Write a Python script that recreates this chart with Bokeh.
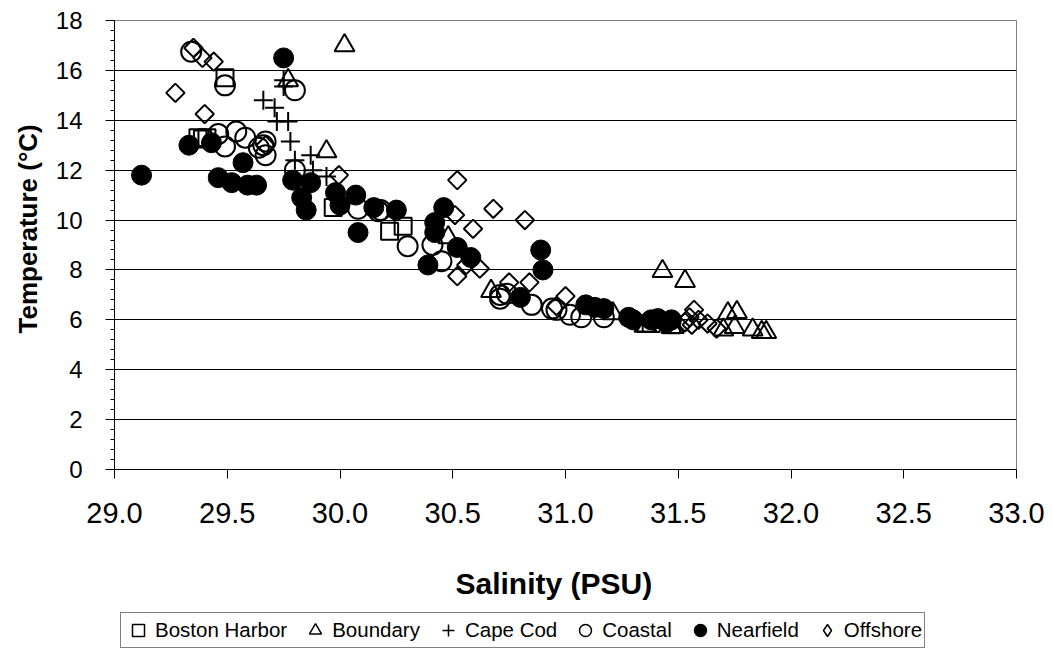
import math
from bokeh.plotting import figure
from bokeh.layouts import column
from bokeh.models import FixedTicker, Legend, LegendItem, Range1d, Title
from bokeh.embed import file_html
from bokeh.resources import INLINE

# ---- data ----
harbor_sal = [29.49, 29.37, 29.39, 29.41, 29.97, 30.22, 30.28, 31.47, 31.38]
harbor_temp = [15.7, 13.3, 13.25, 13.3, 10.5, 9.55, 9.75, 5.8, 5.85]

boundary_sal = [30.02, 29.77, 29.94, 30.48, 30.67, 31.43, 31.53, 31.21, 31.35, 31.36,
                31.47, 31.48, 31.72, 31.76, 31.70, 31.75, 31.83, 31.87, 31.89]
boundary_temp = [17.0, 15.6, 12.75, 9.3, 7.15, 7.95, 7.55, 6.25, 5.75, 5.75,
                 5.7, 5.7, 6.25, 6.3, 5.6, 5.7, 5.6, 5.5, 5.5]

capecod_sal = [29.75, 29.75, 29.66, 29.71, 29.72, 29.77, 29.78, 29.80, 29.87, 29.88, 29.94]
capecod_temp = [15.6, 15.35, 14.8, 14.5, 13.95, 13.95, 13.15, 12.4, 12.6, 12.0, 11.75]

coastal_sal = [29.34, 29.49, 29.80, 29.46, 29.49, 29.54, 29.58, 29.64, 29.66, 29.67,
               29.67, 29.80, 30.08, 30.17, 30.30, 30.41, 30.45, 30.71, 30.74, 30.71,
               30.85, 30.94, 30.96, 31.02, 31.07, 31.17, 30.18]
coastal_temp = [16.75, 15.4, 15.2, 13.45, 12.95, 13.55, 13.3, 12.9, 13.0, 13.15,
                12.6, 12.0, 10.45, 10.35, 8.95, 9.0, 8.35, 7.0, 7.05, 6.85,
                6.6, 6.45, 6.4, 6.2, 6.1, 6.1, 10.4]

nearfield_sal = [29.12, 29.33, 29.43, 29.57, 29.46, 29.52, 29.59, 29.63, 29.75, 29.79,
                 29.87, 29.83, 29.85, 29.98, 30.00, 30.07, 30.08, 30.15, 30.25, 30.46,
                 30.42, 30.42, 30.39, 30.52, 30.58, 30.89, 30.90, 30.80, 31.09, 31.13,
                 31.17, 31.28, 31.38, 31.41, 31.47, 31.30, 31.45]
nearfield_temp = [11.8, 13.0, 13.1, 12.3, 11.7, 11.5, 11.4, 11.4, 16.5, 11.6,
                  11.5, 10.9, 10.4, 11.1, 10.6, 11.0, 9.5, 10.5, 10.4, 10.5,
                  9.9, 9.5, 8.2, 8.9, 8.5, 8.8, 8.0, 6.9, 6.6, 6.5,
                  6.45, 6.1, 6.0, 6.05, 6.0, 6.0, 5.9]

offshore_sal = [29.35, 29.39, 29.44, 29.27, 29.40, 29.67, 29.995, 30.52, 30.51, 30.68,
                30.82, 30.59, 30.52, 30.62, 30.56, 30.75, 30.84, 31.00, 30.96, 31.57,
                31.55, 31.59, 31.56, 31.63, 31.67, 31.53]
offshore_temp = [16.9, 16.5, 16.35, 15.1, 14.25, 13.0, 11.8, 11.6, 10.2, 10.45,
                 10.0, 9.65, 7.75, 8.05, 8.2, 7.5, 7.5, 6.95, 6.55, 6.4,
                 6.1, 6.0, 5.8, 5.85, 5.65, 5.9]

series_names = ["Boston Harbor", "Boundary", "Cape Cod", "Coastal", "Nearfield", "Offshore"]
x_ticks = [29.0, 29.5, 30.0, 30.5, 31.0, 31.5, 32.0, 32.5, 33.0]
y_ticks = [0, 2, 4, 6, 8, 10, 12, 14, 16, 18]
x_title = "Salinity (PSU)"
y_title = "Temperature (°C)"

FONT = "Liberation Sans"

p = figure(width=1052, height=564, output_backend="svg", toolbar_location=None,
           x_range=Range1d(29.0, 33.0), y_range=Range1d(0, 18),
           min_border_left=114, min_border_right=36, min_border_top=20, min_border_bottom=95)
p.background_fill_color = "white"
p.border_fill_color = "white"
p.outline_line_color = "#808080"
p.outline_line_width = 1

# grid
p.xgrid.grid_line_color = None
p.ygrid.ticker = FixedTicker(ticks=y_ticks)
p.ygrid.grid_line_color = "#000000"
p.ygrid.grid_line_width = 1

# axes
p.xaxis.ticker = FixedTicker(ticks=x_ticks, minor_ticks=[])
p.xaxis.major_label_overrides = {t: f"{t:.1f}" for t in x_ticks}
p.yaxis.ticker = FixedTicker(ticks=y_ticks, minor_ticks=[round(i * 0.4, 1) for i in range(46)])
for ax in (p.xaxis[0], p.yaxis[0]):
    ax.axis_line_color = "black"
    ax.axis_line_width = 1
    ax.major_tick_line_color = "black"
    ax.minor_tick_line_color = "black"
    ax.major_tick_in = 0
    ax.major_tick_out = 9
    ax.minor_tick_in = 0
    ax.minor_tick_out = 4
    ax.major_label_text_font = FONT
    ax.major_label_text_color = "black"

p.xaxis.major_label_text_font_size = "29px"
p.yaxis.major_label_text_font_size = "24px"
p.xaxis.major_label_standoff = 24
p.yaxis.major_label_standoff = 23

# y axis title (Excel-like off-centre placement)
p.add_layout(Title(text=y_title, align="left", offset=136, standoff=19,
                   text_font=FONT, text_font_size="26px", text_font_style="bold",
                   text_color="black"), "left")

r_h = p.scatter(harbor_sal, harbor_temp, marker="square", size=17, fill_color=None,
                line_color="black", line_width=2)
r_b = p.scatter(boundary_sal, boundary_temp, marker="triangle", size=20, fill_color=None,
                line_color="black", line_width=2)
r_c = p.scatter(capecod_sal, capecod_temp, marker="cross", size=19,
                line_color="black", line_width=2)
r_co = p.scatter(coastal_sal, coastal_temp, marker="circle", size=20, fill_color=None,
                 line_color="black", line_width=2)
r_n = p.scatter(nearfield_sal, nearfield_temp, marker="circle", size=20, fill_color="black",
                line_color="black", line_width=1)
r_o = p.scatter(offshore_sal, offshore_temp, marker="square", size=13, angle=math.pi / 4,
                fill_color=None, line_color="black", line_width=2)

# ---- strip below the chart: x axis title and legend ----
p2 = figure(width=1052, height=86, output_backend="svg", toolbar_location=None,
            x_range=Range1d(0, 1), y_range=Range1d(0, 1),
            min_border_left=0, min_border_right=0, min_border_top=0, min_border_bottom=0)
p2.axis.visible = False
p2.grid.visible = False
p2.outline_line_color = None
p2.background_fill_color = "white"
p2.border_fill_color = "white"
p2.add_layout(Title(text=x_title, align="left", offset=341, standoff=0,
                    text_font=FONT, text_font_size="30px", text_font_style="bold",
                    text_color="black"), "above")

legend_markers = ["square", "triangle", "cross", "circle", "circle", "diamond"]
legend_fills = [None, None, None, None, "black", None]
dummies = []
for m, fc in zip(legend_markers, legend_fills):
    dummies.append(p2.scatter(x=[-10], y=[-10], marker=m, fill_color=fc,
                              line_color="black", line_width=1.5))

legend = Legend(items=[LegendItem(label=n, renderers=[r]) for n, r in zip(series_names, dummies)],
                orientation="horizontal", location=(6, 2),
                glyph_width=30, glyph_height=30, label_standoff=2, spacing=13,
                padding=2, margin=0,
                label_text_font=FONT, label_text_font_size="20.5px", label_text_color="black",
                border_line_color="black", border_line_width=1,
                background_fill_color="white", background_fill_alpha=1)
p2.add_layout(legend, "center")

layout = column(p, p2, spacing=0)
open("out.html", "w").write(file_html(layout, INLINE))
